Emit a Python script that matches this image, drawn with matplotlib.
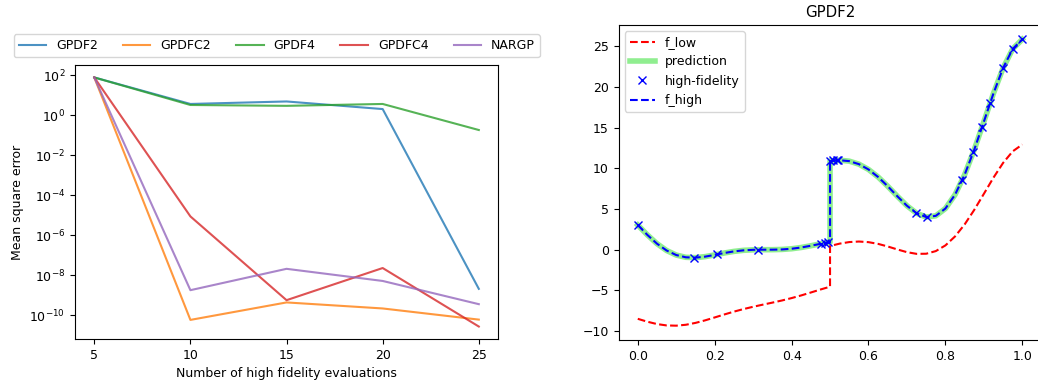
"""MSE convergence of the multi-fidelity models and the GPDF2 fit on the discontinuous test problem."""

import matplotlib
matplotlib.use("Agg")
import matplotlib.pyplot as plt

plt.rcParams["font.size"] = 9

# ──────────────────────────────────────────────
# Mean square error vs. number of high fidelity evaluations
# ──────────────────────────────────────────────
n_high = [5, 10, 15, 20, 25]
mse_gpdf2 = [76, 3.6, 4.8, 2.0, 2.1e-9]
mse_gpdfc2 = [76, 5.9e-11, 4.4e-10, 2.2e-10, 6.1e-11]
mse_gpdf4 = [76, 3.2, 2.9, 3.6, 0.18]
mse_gpdfc4 = [76, 8.7e-6, 5.7e-10, 2.3e-8, 2.75e-11]
mse_nargp = [76, 1.8e-9, 2.1e-8, 5.2e-9, 3.6e-10]

# ──────────────────────────────────────────────
# Test functions sampled on [0, 1], jump at x = 0.5
# ──────────────────────────────────────────────
x_grid = [
    0.0, 0.025, 0.05, 0.075, 0.1, 0.125, 0.15, 0.175, 0.2, 0.225, 0.25,
    0.275, 0.3, 0.325, 0.35, 0.375, 0.4, 0.425, 0.45, 0.475, 0.5,
    0.5, 0.525, 0.55, 0.575, 0.6, 0.625, 0.65, 0.675, 0.7, 0.725, 0.75,
    0.775, 0.8, 0.825, 0.85, 0.875, 0.9, 0.925, 0.95, 0.975, 1.0,
]
y_low = [
    -8.487, -8.843, -9.131, -9.300, -9.329, -9.218, -8.989, -8.677, -8.320,
    -7.954, -7.605, -7.290, -7.008, -6.750, -6.499, -6.235, -5.942, -5.615,
    -5.258, -4.891, -4.545,
    0.455, 0.743, 0.936, 1.002, 0.925, 0.713, 0.395, 0.030, -0.303, -0.511,
    -0.497, -0.173, 0.525, 1.623, 3.100, 4.886, 6.856, 8.844, 10.652,
    12.074, 12.915,
]
y_high = [
    3.027, 1.813, 0.738, -0.100, -0.657, -0.935, -0.978, -0.854, -0.640,
    -0.407, -0.210, -0.079, -0.016, -0.000, 0.002, 0.030, 0.115, 0.270,
    0.483, 0.717, 0.909,
    10.909, 10.986, 10.871, 10.503, 9.851, 8.926, 7.791, 6.561, 5.394, 4.478,
    4.007, 4.155, 5.051, 6.747, 9.201, 12.272, 15.712, 19.187, 22.303,
    24.648, 25.830,
]
# GPDF2 posterior mean sits on top of f_high
y_pred = list(y_high)

x_train = [
    0.0, 0.147, 0.207, 0.313, 0.477, 0.487, 0.496, 0.500, 0.509, 0.517,
    0.522, 0.724, 0.751, 0.844, 0.873, 0.895, 0.917, 0.950, 0.975, 1.0,
]
y_train = [
    3.027, -0.982, -0.574, -0.004, 0.734, 0.819, 0.884, 10.909, 10.954,
    10.979, 10.984, 4.507, 3.997, 8.549, 12.008, 15.005, 18.041, 22.303,
    24.648, 25.830,
]

fig = plt.figure(figsize=(10.38, 3.85), dpi=100)
ax1 = fig.add_axes([0.0723, 0.1195, 0.4075, 0.7117])
ax2 = fig.add_axes([0.5959, 0.1169, 0.4075, 0.8182])

# Left: convergence curves
for vals, name in [
    (mse_gpdf2, "GPDF2"),
    (mse_gpdfc2, "GPDFC2"),
    (mse_gpdf4, "GPDF4"),
    (mse_gpdfc4, "GPDFC4"),
    (mse_nargp, "NARGP"),
]:
    ax1.plot(n_high, vals, alpha=0.8, label=name)
ax1.set_yscale("log")
ax1.set_yticks([1e2, 1e0, 1e-2, 1e-4, 1e-6, 1e-8, 1e-10])
ax1.minorticks_off()
ax1.set_xticks(n_high)
ax1.set_xlabel("Number of high fidelity evaluations")
ax1.set_ylabel("Mean square error")
ax1.legend(loc="lower center", bbox_to_anchor=(0.477, 1.005), ncol=5,
           handlelength=2.2)

# Right: low/high fidelity functions and the GPDF2 prediction
ax2.plot(x_grid, y_low, "r--", label="f_low")
ax2.plot(x_grid, y_pred, color="lightgreen", linewidth=4, label="prediction")
ax2.plot(x_train, y_train, "bx", label="high-fidelity")
ax2.plot(x_grid, y_high, "b--", label="f_high")
ax2.set_title("GPDF2")
ax2.legend(loc="upper left")

fig.savefig("out.png", dpi=100)
